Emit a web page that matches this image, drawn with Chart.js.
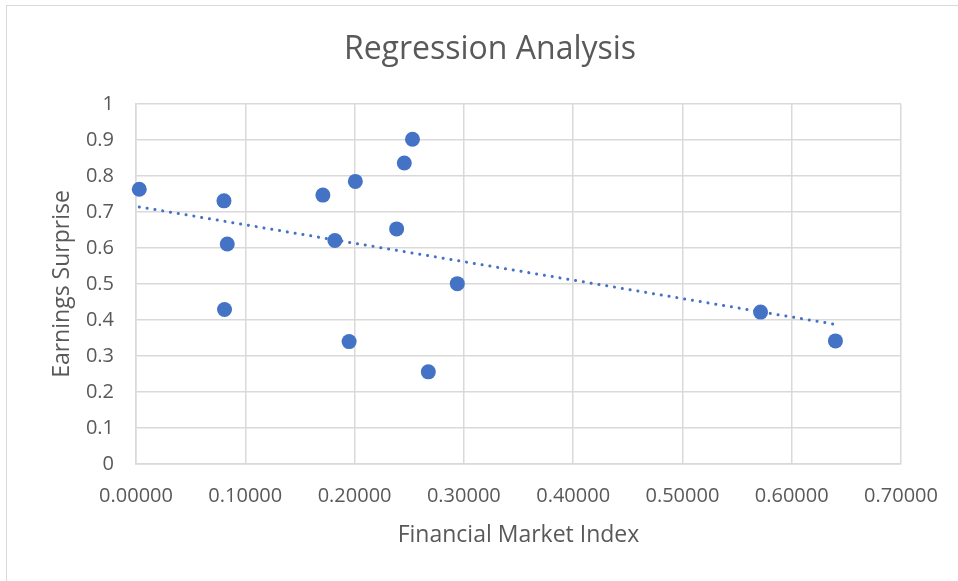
<!DOCTYPE html>
<html>
<head>
<meta charset="utf-8">
<script src="https://cdn.jsdelivr.net/npm/chart.js@4"></script>
<style>
  html, body { margin: 0; padding: 0; background: #fff; }
  #wrap { position: relative; width: 958px; height: 581px; overflow: hidden; }
  #frame { position: absolute; left: 6px; top: 5px; width: 1000px; height: 1000px; border: 1px solid #d9d9d9; }
  canvas { position: absolute; left: 0; top: 0; }
</style>
</head>
<body>
<div id="wrap">
  <div id="frame"></div>
  <canvas id="chart" width="958" height="581"></canvas>
</div>
<script>
// financial market index (x) vs earnings surprise (y)
const marketIndex = [0.003, 0.0805, 0.0835, 0.081, 0.171, 0.182, 0.2007, 0.195, 0.2385, 0.2455, 0.253, 0.2675, 0.294, 0.5715, 0.640];
const earningsSurprise = [0.763, 0.731, 0.611, 0.429, 0.747, 0.621, 0.785, 0.340, 0.653, 0.836, 0.902, 0.256, 0.501, 0.422, 0.342];

const xTickLabels = ["0.00000", "0.10000", "0.20000", "0.30000", "0.40000", "0.50000", "0.60000", "0.70000"];
const yTickLabels = ["0", "0.1", "0.2", "0.3", "0.4", "0.5", "0.6", "0.7", "0.8", "0.9", "1"];

const chartTitle = "Regression Analysis";

const blue = "#4472C4";
const grey = "#595959";
const gridGrey = "#d9d9d9";
const fontFamily = "'Open Sans', sans-serif";

// least squares trendline over the observed x range
const n = marketIndex.length;
const mx = marketIndex.reduce((a, b) => a + b, 0) / n;
const my = earningsSurprise.reduce((a, b) => a + b, 0) / n;
let sxy = 0, sxx = 0;
for (let i = 0; i < n; i++) {
  sxy += (marketIndex[i] - mx) * (earningsSurprise[i] - my);
  sxx += (marketIndex[i] - mx) * (marketIndex[i] - mx);
}
const slope = sxy / sxx;
const intercept = my - slope * mx;
const xMin = Math.min(...marketIndex);
const xMax = Math.max(...marketIndex);
const trend = [
  { x: xMin, y: intercept + slope * xMin },
  { x: xMax, y: intercept + slope * xMax }
];

const points = marketIndex.map((x, i) => ({ x: x, y: earningsSurprise[i] }));

// the title sits centred on the whole frame, not on the plot, so draw it ourselves
const titlePlugin = {
  id: "frameTitle",
  afterDraw(chart) {
    const ctx = chart.ctx;
    ctx.save();
    ctx.fillStyle = grey;
    ctx.font = "32px " + fontFamily;
    ctx.textAlign = "center";
    ctx.textBaseline = "middle";
    ctx.fillText(chartTitle, 490, 50);
    ctx.restore();
  }
};

new Chart(document.getElementById("chart").getContext("2d"), {
  type: "scatter",
  data: {
    datasets: [
      {
        label: "Trend",
        data: trend,
        showLine: true,
        borderColor: blue,
        borderWidth: 3,
        borderDash: [0.1, 7.8],
        borderCapStyle: "round",
        pointRadius: 0,
        clip: false
      },
      {
        label: "Earnings Surprise",
        data: points,
        backgroundColor: blue,
        borderColor: blue,
        borderWidth: 0,
        pointRadius: 7.5,
        pointHoverRadius: 7.5,
        clip: false
      }
    ]
  },
  plugins: [titlePlugin],
  options: {
    responsive: false,
    animation: false,
    layout: { padding: { left: 0, right: 57, top: 104, bottom: 0 } },
    plugins: {
      legend: { display: false },
      tooltip: { enabled: false },
      title: { display: false }
    },
    scales: {
      x: {
        type: "linear",
        min: 0,
        max: 0.7,
        afterFit: (scale) => { scale.height = 117; },
        ticks: {
          stepSize: 0.1,
          color: grey,
          padding: 20,
          maxRotation: 0,
          font: { family: fontFamily, size: 20 },
          callback: (v, i) => xTickLabels[i]
        },
        grid: { color: gridGrey, lineWidth: 1.5, drawTicks: false },
        border: { color: gridGrey, width: 1.5 },
        title: {
          display: true,
          text: "Financial Market Index",
          color: grey,
          font: { family: fontFamily, size: 23 },
          padding: { top: 0, bottom: 32 }
        }
      },
      y: {
        min: 0,
        max: 1,
        afterFit: (scale) => { scale.width = 136; },
        ticks: {
          stepSize: 0.1,
          color: grey,
          padding: 22,
          font: { family: fontFamily, size: 20 },
          callback: (v, i) => yTickLabels[i]
        },
        grid: { color: gridGrey, lineWidth: 1.5, drawTicks: false },
        border: { color: gridGrey, width: 1.5 },
        title: {
          display: true,
          text: "Earnings Surprise",
          color: grey,
          font: { family: fontFamily, size: 23 },
          padding: { top: 49, bottom: 0 }
        }
      }
    }
  }
});
</script>
</body>
</html>
